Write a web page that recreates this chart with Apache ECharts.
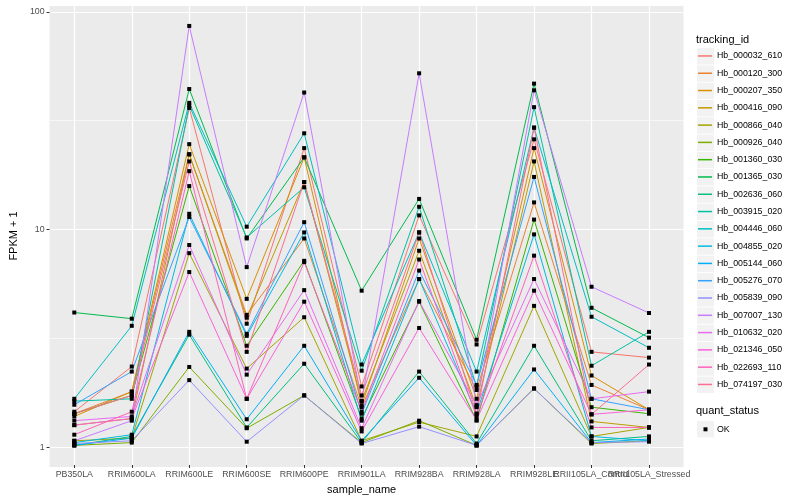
<!DOCTYPE html>
<html>
<head>
<meta charset="utf-8">
<script src="https://cdn.jsdelivr.net/npm/echarts@6/dist/echarts.min.js"></script>
<style>html,body{margin:0;padding:0;background:#fff}#c{width:800px;height:500px}</style>
</head>
<body>
<div id="c"></div>
<script>
const categories = ['PB350LA','RRIM600LA','RRIM600LE','RRIM600SE','RRIM600PE','RRIM901LA','RRIM928BA','RRIM928LA','RRIM928LE','RRII105LA_Control','RRII105LA_Stressed'];
const trackingIds = ['Hb_000032_610','Hb_000120_300','Hb_000207_350','Hb_000416_090','Hb_000866_040','Hb_000926_040','Hb_001360_030','Hb_001365_030','Hb_002636_060','Hb_003915_020','Hb_004446_060','Hb_004855_020','Hb_005144_060','Hb_005276_070','Hb_005839_090','Hb_007007_130','Hb_010632_020','Hb_021346_050','Hb_022693_110','Hb_074197_030'];
const palette = ['#F8766D','#EA8331','#D89000','#C09B00','#A3A500','#7CAE00','#39B600','#00BB4E','#00BF7D','#00C1A3','#00BFC4','#00BAE0','#00B0F6','#35A2FF','#9590FF','#C77CFF','#E76BF3','#FA62DB','#FF62BC','#FF6C91'];

// FPKM + 1 values, one array per tracking_id, in category order
const hb_000032_610 = [1.43, 2.31, 36, 3.64, 23.5, 1.87, 11.5, 2.92, 25.8, 2.7, 2.54];
const hb_000120_300 = [1.40, 1.77, 22, 4.0, 9.0, 1.5, 5.85, 1.8, 13.2, 1.9, 1.46];
const hb_000207_350 = [1.36, 1.77, 24.5, 4.74, 21.3, 1.53, 9.0, 1.64, 23.5, 2.1, 1.46];
const hb_000416_090 = [1.24, 1.33, 22, 3.88, 16.4, 1.6, 7.9, 1.5, 20.4, 1.29, 1.21];
const hb_000866_040 = [1.05, 1.08, 7.7, 2.26, 3.9, 1.05, 1.28, 1.1, 4.4, 1.1, 1.21];
const hb_000926_040 = [1.0, 1.03, 2.3, 1.2, 1.7, 1.03, 1.3, 1.0, 1.83, 1.02, 1.05];
const hb_001360_030 = [1.4, 1.7, 15.7, 2.88, 7.1, 1.33, 4.6, 1.3, 11.0, 1.5, 1.4];
const hb_001365_030 = [4.1, 3.84, 44, 9.0, 21.3, 5.17, 13.7, 3.07, 46.6, 4.31, 3.14];
const hb_002636_060 = [1.0, 1.1, 3.24, 1.21, 2.38, 1.03, 2.19, 1.02, 2.88, 1.05, 1.1];
const hb_003915_020 = [1.6, 1.64, 37, 9.1, 15.5, 2.21, 12.6, 1.87, 36.3, 2.33, 3.34];
const hb_004446_060 = [1.64, 3.56, 38, 10.2, 27.5, 2.36, 9.6, 2.19, 29.2, 3.92, 2.82];
const hb_004855_020 = [1.03, 1.12, 11.7, 3.2, 9.6, 1.3, 5.85, 1.4, 9.4, 1.1, 1.05];
const hb_005144_060 = [1.0, 1.08, 3.34, 1.32, 2.88, 1.05, 2.05, 1.0, 2.24, 1.03, 1.07];
const hb_005276_070 = [1.54, 2.19, 11.3, 3.27, 10.7, 1.4, 6.4, 1.9, 17.3, 1.64, 1.46];
const hb_005839_090 = [1.02, 1.05, 2.0, 1.04, 1.7, 1.02, 1.22, 1.0, 1.83, 1.03, 1.04];
const hb_007007_130 = [1.05, 1.3, 86, 6.64, 42.4, 1.6, 52, 1.53, 43.4, 5.39, 4.08];
const hb_010632_020 = [1.3, 1.36, 8.4, 2.12, 5.2, 1.2, 4.63, 1.53, 5.85, 1.64, 1.77];
const hb_021346_050 = [1.24, 1.33, 6.3, 1.64, 4.6, 1.16, 3.48, 1.31, 5.17, 1.39, 1.46];
const hb_022693_110 = [1.12, 1.43, 18.4, 1.64, 7.0, 1.43, 7.2, 1.36, 7.5, 1.21, 1.21];
const hb_074197_030 = [1.4, 1.7, 20.4, 2.7, 16.4, 1.7, 9.6, 1.4, 29.2, 1.39, 2.36];

const seriesValues = [hb_000032_610, hb_000120_300, hb_000207_350, hb_000416_090, hb_000866_040, hb_000926_040, hb_001360_030, hb_001365_030, hb_002636_060, hb_003915_020, hb_004446_060, hb_004855_020, hb_005144_060, hb_005276_070, hb_005839_090, hb_007007_130, hb_010632_020, hb_021346_050, hb_022693_110, hb_074197_030];
const yTickLabels = [1, 10, 100];
const quantStatus = ['OK'];

const FONT = '"Liberation Sans", Arial, sans-serif';
const Y_MIN = 0.812, Y_MAX = 107.4;
const chart = echarts.init(document.getElementById('c'), null, {renderer: 'canvas'});

const series = trackingIds.map((id, i) => ({
  name: id,
  type: 'line',
  data: seriesValues[i],
  xAxisIndex: 1,
  yAxisIndex: 2,
  symbol: 'rect',
  symbolSize: 4,
  showSymbol: true,
  showAllSymbol: true,
  itemStyle: {color: '#000'},
  lineStyle: {color: palette[i], width: 1},
  emphasis: {disabled: true},
  animation: false
}));

const graphics = [];
const rowH = 17.29, firstRowTop = 48.1;
graphics.push({type: 'text', left: 696, top: 34.5, style: {text: 'tracking_id', font: '11px ' + FONT, fill: '#000'}});
trackingIds.forEach((id, i) => {
  graphics.push({type: 'rect', shape: {x: 697, y: firstRowTop + i * rowH, width: 17, height: 16.4}, style: {fill: '#F2F2F2'}, z: -1});
});
graphics.push({type: 'text', left: 696, top: 405.5, style: {text: 'quant_status', font: '11px ' + FONT, fill: '#000'}});
graphics.push({type: 'rect', shape: {x: 697, y: 421, width: 17, height: 16.4}, style: {fill: '#F2F2F2'}, z: -1});
graphics.push({type: 'rect', shape: {x: 703.5, y: 427.3, width: 4, height: 4}, style: {fill: '#000'}});
graphics.push({type: 'text', left: 717, top: 424.7, style: {text: quantStatus[0], font: '8.8px ' + FONT, fill: '#000'}});

chart.setOption({
  animation: false,
  backgroundColor: '#fff',
  textStyle: {fontFamily: FONT},
  grid: [
    {left: 40, right: 116.5, top: 5, bottom: 33, show: true, backgroundColor: '#EBEBEB', borderWidth: 0},
    {left: 74.3, right: 151, top: 5, bottom: 33, show: false}
  ],
  legend: {
    orient: 'vertical',
    left: 698,
    top: firstRowTop + (rowH - 15) / 2 - 0.8,
    padding: 0,
    itemWidth: 14,
    itemHeight: 1.5,
    itemGap: rowH - 15,
    selectedMode: false,
    textStyle: {fontSize: 8.8, color: '#000', fontFamily: FONT, lineHeight: 15},
    data: trackingIds.map((id, i) => ({name: id, icon: 'rect', itemStyle: {color: palette[i], borderWidth: 0}}))
  },
  xAxis: [{
    gridIndex: 0,
    type: 'value',
    min: 0, max: 1,
    show: false
  }, {
    gridIndex: 1,
    type: 'category',
    data: categories,
    boundaryGap: false,
    name: 'sample_name',
    nameLocation: 'middle',
    nameGap: 19,
    nameTextStyle: {fontSize: 11, color: '#000', fontFamily: FONT},
    axisLine: {show: false},
    axisTick: {show: true, length: 3, interval: 0, lineStyle: {color: '#333'}},
    axisLabel: {interval: 0, color: '#4D4D4D', fontSize: 8.8, margin: 5, fontFamily: FONT},
    splitLine: {show: true, interval: 0, lineStyle: {color: '#fff', width: 1.2}}
  }],
  yAxis: [{
    gridIndex: 0,
    type: 'log',
    logBase: 10,
    min: Y_MIN,
    max: Y_MAX,
    name: 'FPKM + 1',
    nameLocation: 'middle',
    nameGap: 26,
    nameRotate: 90,
    nameTextStyle: {fontSize: 11, color: '#000', fontFamily: FONT},
    axisLine: {show: false},
    axisTick: {show: true, length: 3, lineStyle: {color: '#333'}},
    axisLabel: {
      color: '#4D4D4D', fontSize: 8.8, margin: 5, fontFamily: FONT,
      showMinLabel: false, showMaxLabel: false,
      formatter: v => {
        const hit = yTickLabels.find(t => Math.abs(t - v) / t < 1e-6);
        return hit === undefined ? '' : String(hit);
      }
    },
    splitLine: {show: true, lineStyle: {color: '#fff', width: 1.2}}
  }, {
    gridIndex: 0,
    type: 'log',
    logBase: Math.sqrt(10),
    min: Y_MIN,
    max: Y_MAX,
    axisLine: {show: false},
    axisTick: {show: false},
    axisLabel: {show: false},
    splitLine: {show: true, lineStyle: {color: '#fff', width: 0.6}}
  }, {
    gridIndex: 1,
    type: 'log',
    logBase: 10,
    min: Y_MIN,
    max: Y_MAX,
    show: false,
    splitLine: {show: false}
  }],
  graphic: graphics,
  series: series
});
</script>
</body>
</html>
